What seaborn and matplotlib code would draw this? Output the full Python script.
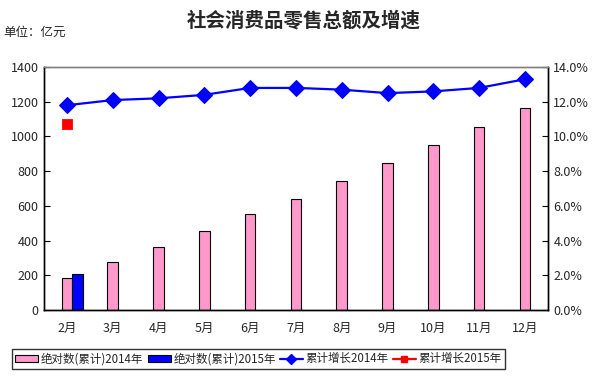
import matplotlib
matplotlib.use("Agg")
import matplotlib.pyplot as plt
import numpy as np
import seaborn as sns
from matplotlib.patches import Patch
from matplotlib.lines import Line2D
from matplotlib.ticker import FuncFormatter, MultipleLocator

# 数据
months = ["2月", "3月", "4月", "5月", "6月", "7月", "8月", "9月", "10月", "11月", "12月"]
total_2014 = [184, 276, 361, 453, 551, 638, 742, 847, 950, 1054, 1162]
total_2015 = [207]
growth_2014 = [11.8, 12.1, 12.2, 12.4, 12.8, 12.8, 12.7, 12.5, 12.6, 12.8, 13.3]
growth_2015 = [10.7]

sns.set_style("white")
plt.rcParams["font.family"] = ["Noto Sans CJK SC", "DejaVu Sans"]
plt.rcParams["axes.unicode_minus"] = False

pink = "#ff99cc"
blue = "#0000ff"
red = "#ff0000"

fig = plt.figure(figsize=(6.07, 3.77), dpi=100)
ax = fig.add_axes([0.0725, 0.178, 0.83, 0.644])

bw = 0.23
x = np.arange(len(months))
sns.barplot(x=months, y=total_2014, color=pink, width=bw, edgecolor="black",
            linewidth=0.8, saturation=1, ax=ax)
ax.bar(x[:len(total_2015)] + bw, total_2015, width=bw, color=blue,
       edgecolor="black", linewidth=0.8)

ax.set_xlim(-0.5, len(months) - 0.5)
ax.set_ylim(0, 1400)
ax.yaxis.set_major_locator(MultipleLocator(200))
ax.tick_params(axis="y", direction="in", length=4, labelsize=9, pad=4, color="black")
ax.set_xticks(x)
ax.set_xticklabels(months)
ax.set_xticks(np.arange(len(months) + 1) - 0.5, minor=True)
ax.tick_params(axis="x", which="major", length=0, labelsize=9, pad=9)
ax.tick_params(axis="x", which="minor", direction="in", length=4, color="black")
ax.set_xlabel("")
ax.set_ylabel("")

ax2 = ax.twinx()
sns.lineplot(x=x, y=growth_2014, color=blue, marker="D", markersize=8,
             markeredgecolor=blue, linewidth=1.6, ax=ax2)
sns.scatterplot(x=x[:len(growth_2015)], y=growth_2015, color=red, marker="s",
                s=55, edgecolor=red, ax=ax2)
ax2.set_ylim(0, 14)
ax2.yaxis.set_major_locator(MultipleLocator(2))
ax2.yaxis.set_major_formatter(FuncFormatter(lambda v, p: f"{v:.1f}%"))
ax2.tick_params(axis="y", direction="in", length=4, labelsize=9, pad=4, color="black")
ax2.set_ylabel("")

for a in (ax, ax2):
    for s in ("left", "right", "bottom"):
        a.spines[s].set_color("black")
        a.spines[s].set_linewidth(1)
    a.spines["top"].set_color("#808080")
    a.spines["top"].set_linewidth(1)

fig.text(0.5, 0.945, "社会消费品零售总额及增速", ha="center", va="center",
         fontsize=14, fontweight="bold")
fig.text(0.005, 0.915, "单位：亿元", ha="left", va="center", fontsize=9)

handles = [
    Patch(facecolor=pink, edgecolor="black", linewidth=0.8),
    Patch(facecolor=blue, edgecolor="black", linewidth=0.8),
    Line2D([], [], color=blue, marker="D", markersize=5, linewidth=1.6),
    Line2D([], [], color=red, marker="s", markersize=5, linewidth=1.6),
]
labels = ["绝对数(累计)2014年", "绝对数(累计)2015年", "累计增长2014年", "累计增长2015年"]
leg = fig.legend(handles, labels, loc="center", bbox_to_anchor=(0.426, 0.048),
                 ncol=4, fontsize=8.3, frameon=True, fancybox=False,
                 handlelength=2.0, handleheight=0.6, handletextpad=0.25,
                 columnspacing=0.35, borderpad=0.3, borderaxespad=0)
leg.get_frame().set_edgecolor("black")
leg.get_frame().set_linewidth(1)

fig.savefig("out.png", dpi=100)
